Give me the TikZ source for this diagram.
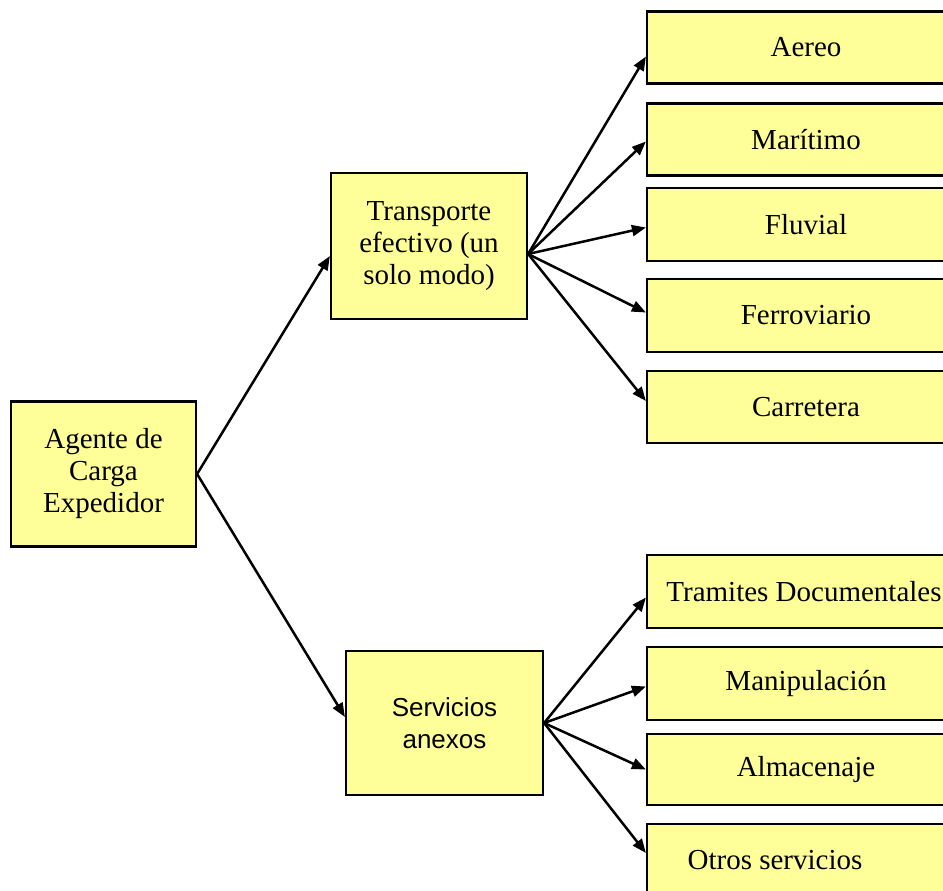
\documentclass[tikz,border=0pt]{standalone}
\usepackage{fontspec}
\setmainfont{Liberation Serif}
\newfontfamily\sansf{Liberation Sans}
\usetikzlibrary{arrows.meta}
\definecolor{boxyellow}{HTML}{FFFF99}
\tikzset{
  box/.style={draw=black, line width=2.2pt, fill=boxyellow, rectangle, align=center,
    inner sep=0pt, font=\fontsize{29}{32}\selectfont},
  leftbox/.style={box, minimum width=185pt, minimum height=145pt},
  rightbox/.style={box, minimum width=318pt, minimum height=72pt},
  conn/.style={line width=2.5pt, -{Triangle[length=14pt,width=11pt]}}
}
\begin{document}
\begin{tikzpicture}[x=1pt,y=-1pt]
\useasboundingbox (0,0) rectangle (943,891);
\fill[white] (0,0) rectangle (943,891);
\clip (0,0) rectangle (943,891);
\node[leftbox] (ag) at (103.5,474) {Agente de\\Carga\\Expedidor};
\node[leftbox, minimum width=196pt, minimum height=146pt] (tr) at (429,246) {Transporte\\efectivo (un\\solo modo)};
\node[leftbox, minimum width=197pt, minimum height=144pt, font=\sansf\fontsize{26}{32}\selectfont] (sv) at (444.5,723) {Servicios\\anexos};
\node[rightbox] (aereo) at (806,47.5) {Aereo};
\node[rightbox] (mar) at (806,139.5) {Marítimo};
\node[rightbox, minimum height=73pt] (flu) at (806,224.5) {Fluvial};
\node[rightbox, minimum height=73pt] (fer) at (806,315.5) {Ferroviario};
\node[rightbox] (car) at (806,407) {Carretera};
\node[rightbox, minimum height=73pt] (tram) at (806,591.5) {\hspace*{-4pt}Tramites Documentales};
\node[rightbox, minimum height=73pt] (man) at (806,683.5) {Manipulación};
\node[rightbox, minimum height=71pt] (alm) at (806,769.5) {Almacenaje};
\node[rightbox, minimum height=72pt] (otr) at (806,860) {\hspace*{-62pt}\raisebox{-8pt}{Otros servicios}};
\draw[conn] (ag.east) -- ([yshift=-10pt]tr.west);
\draw[conn] (ag.east) -- ([yshift=6pt]sv.west);
\draw[conn] ([yshift=-8pt]tr.east) -- ([yshift=-9pt]aereo.west);
\draw[conn] ([yshift=-8pt]tr.east) -- ([yshift=-2pt]mar.west);
\draw[conn] ([yshift=-8pt]tr.east) -- ([yshift=-3pt]flu.west);
\draw[conn] ([yshift=-8pt]tr.east) -- ([yshift=3pt]fer.west);
\draw[conn] ([yshift=-8pt]tr.east) -- ([yshift=6pt]car.west);
\draw[conn] (sv.east) -- ([yshift=-6pt]tram.west);
\draw[conn] (sv.east) -- ([yshift=-3pt]man.west);
\draw[conn] (sv.east) -- (alm.west);
\draw[conn] (sv.east) -- ([yshift=7pt]otr.west);
\end{tikzpicture}
\end{document}
